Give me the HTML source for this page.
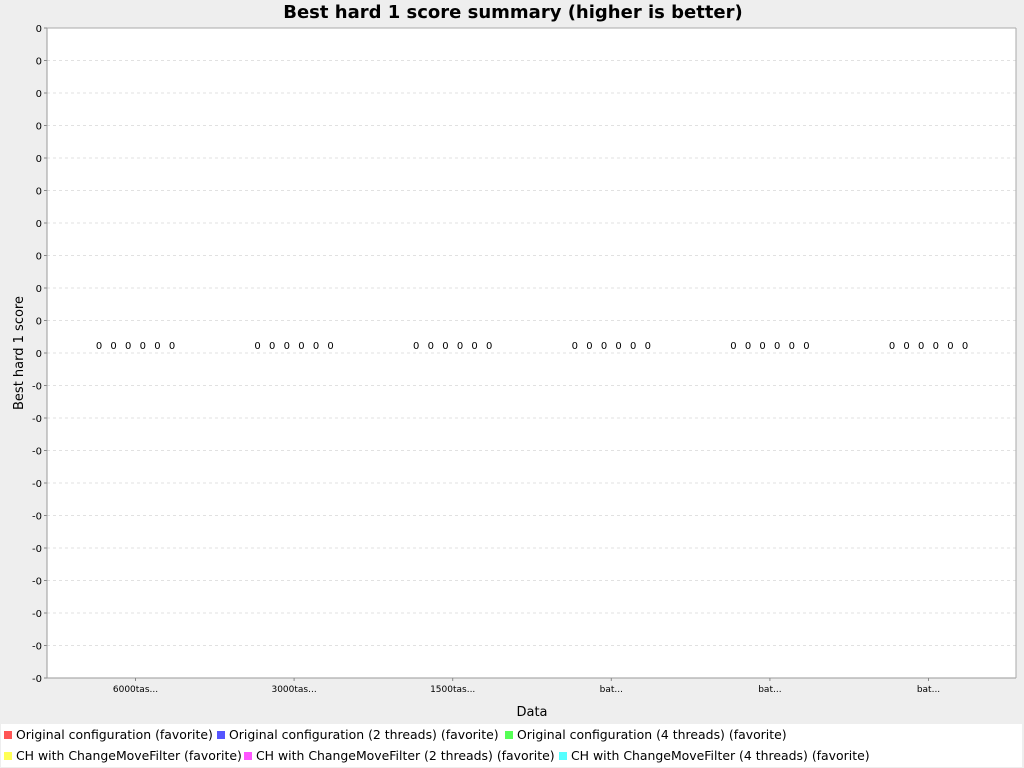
<!DOCTYPE html>
<html><head><meta charset="utf-8"><style>
body{margin:0;width:1024px;height:768px;background:#eeeeee;font-family:"Liberation Sans","DejaVu Sans",sans-serif;overflow:hidden;position:relative}
.t{position:absolute}
#legend{position:absolute;left:1px;top:724px;width:1021px;height:43px;background:#fff}
.li{position:absolute;font-size:12.45px;color:#000;white-space:nowrap;font-family:"DejaVu Sans",sans-serif}
.sq{display:inline-block;width:8px;height:8px;margin-right:4px;vertical-align:0px}
</style></head><body>
<div class="t" style="left:0;width:1026px;top:2px;text-align:center;font-weight:bold;font-size:18px;font-family:'DejaVu Sans',sans-serif">Best hard 1 score summary (higher is better)</div>
<svg id="chart" width="1024" height="724" style="position:absolute;left:0;top:0" font-family="DejaVu Sans, sans-serif"></svg>
<div id="legend">
<div class="li" style="left:3px;top:3px"><span class="sq" style="background:#ff5555"></span>Original configuration (favorite)</div>
<div class="li" style="left:216px;top:3px"><span class="sq" style="background:#5555ff"></span>Original configuration (2 threads) (favorite)</div>
<div class="li" style="left:504px;top:3px"><span class="sq" style="background:#55ff55"></span>Original configuration (4 threads) (favorite)</div>
<div class="li" style="left:3px;top:24px"><span class="sq" style="background:#ffff55"></span>CH with ChangeMoveFilter (favorite)</div>
<div class="li" style="left:243px;top:24px"><span class="sq" style="background:#ff55ff"></span>CH with ChangeMoveFilter (2 threads) (favorite)</div>
<div class="li" style="left:558px;top:24px"><span class="sq" style="background:#55ffff"></span>CH with ChangeMoveFilter (4 threads) (favorite)</div>
</div>
<script>
const categories=["6000tas...","3000tas...","1500tas...","bat...","bat...","bat..."];
const seriesNames=["Original configuration (favorite)","Original configuration (2 threads) (favorite)","Original configuration (4 threads) (favorite)","CH with ChangeMoveFilter (favorite)","CH with ChangeMoveFilter (2 threads) (favorite)","CH with ChangeMoveFilter (4 threads) (favorite)"];
const seriesColors=["#ff5555","#5555ff","#55ff55","#ffff55","#ff55ff","#55ffff"];
const values=[[0,0,0,0,0,0],[0,0,0,0,0,0],[0,0,0,0,0,0],[0,0,0,0,0,0],[0,0,0,0,0,0],[0,0,0,0,0,0]];
const yMin=-1e-9, yMax=1e-9, nTicks=21;
const L=47,R=1016,T=28,B=678;
const svg=document.getElementById('chart');const NS='http://www.w3.org/2000/svg';
function mk(t,a){const e=document.createElementNS(NS,t);for(const k in a)e.setAttribute(k,a[k]);svg.appendChild(e);return e;}
const y=v=>B-(v-yMin)/(yMax-yMin)*(B-T);
const xc=i=>135.5+i*158.6;
const bg=mk('rect',{x:L,y:T,width:R-L,height:B-T,fill:'#fff'});


for(let i=0;i<nTicks;i++){
 const v=yMax-(yMax-yMin)*i/(nTicks-1);const yy=y(v);
 if(i>0&&i<nTicks-1){const g=mk('line',{x1:L,x2:R,y1:yy,y2:yy,stroke:'#d8d8d8','stroke-dasharray':'3,3','stroke-width':0.8});
 
 }
 mk('line',{x1:L-3,x2:L,y1:yy,y2:yy,stroke:'#888'});
 const tx=mk('text',{x:L-5,y:yy+4,'text-anchor':'end','font-size':10});
 tx.textContent=(v<-1e-12)?'-0':'0';
 
 
}
mk('line',{x1:L,x2:R,y1:T,y2:T,stroke:'#aaa'});
mk('line',{x1:L,x2:L,y1:T,y2:B,stroke:'#999'});
mk('line',{x1:L,x2:R,y1:B,y2:B,stroke:'#999'});
mk('line',{x1:R,x2:R,y1:T,y2:B,stroke:'#aaa'});
categories.forEach((c,i)=>{
 const cx=xc(i);
 mk('line',{x1:cx,x2:cx,y1:B,y2:B+3,stroke:'#888'});
 const t=mk('text',{x:cx,y:B+14,'text-anchor':'middle','font-size':9});t.textContent=c;
 
 
 values.forEach((s,j)=>{
  const v=s[i];const bx=cx-36.5+j*14.6;
  const y0=y(0),yv=y(v);
  const r=mk('rect',{x:bx-6,y:Math.min(y0,yv),width:12,height:Math.abs(yv-y0),fill:seriesColors[j]});
  
  
  const lb=mk('text',{x:bx,y:Math.min(y0,yv)-4,'text-anchor':'middle','font-size':10});lb.textContent=String(v);
  
  
 });
});
const xt=mk('text',{x:532,y:716,'text-anchor':'middle','font-size':13});xt.textContent='Data';


const yt=mk('text',{x:0,y:0,'text-anchor':'middle','font-size':13,transform:'translate(23,353) rotate(-90)'});yt.textContent='Best hard 1 score';


</script>
</body></html>
